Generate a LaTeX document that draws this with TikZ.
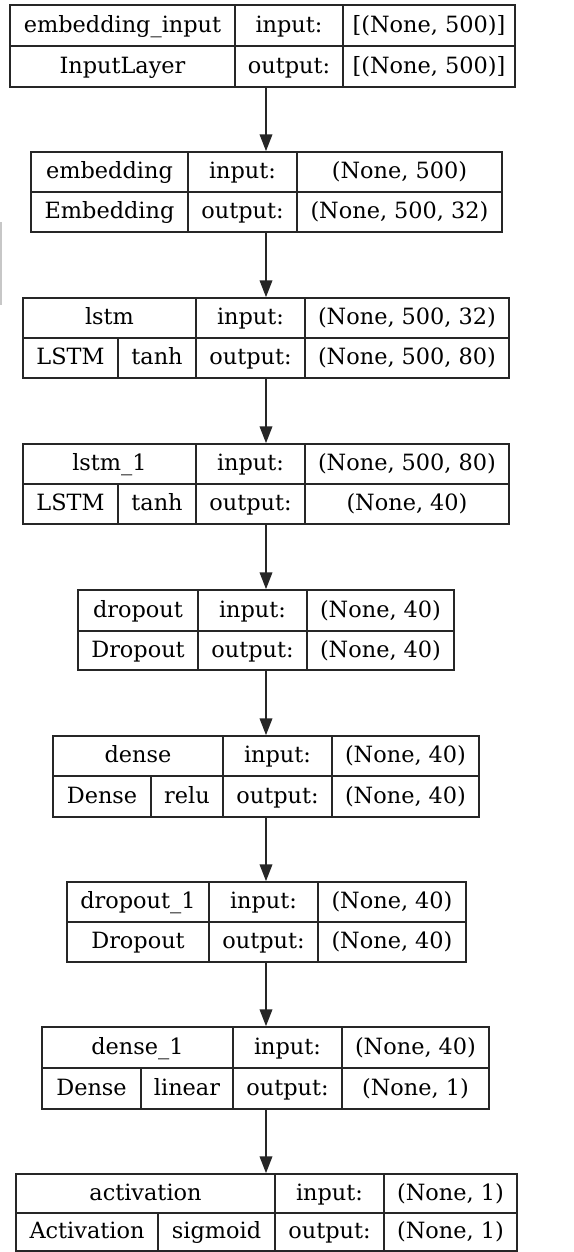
\documentclass[tikz,border=0pt]{standalone}
\usepackage{fontspec}
\setmainfont{DejaVu Serif}
\usetikzlibrary{fit,arrows.meta}
\tikzset{
  x=0.75pt, y=-0.75pt,
  cellbox/.style={draw=black!85, line width=0.95pt, inner sep=0pt, text height=13pt, text depth=3pt,
    font=\fontsize{16.8pt}{19pt}\selectfont},
  layerbox/.style={inner sep=0pt},
  arr/.style={draw=black!85, line width=0.95pt, -{Triangle[length=12.5pt,width=9.5pt]}},
}
\newcommand\cell[6]{\node[cellbox, minimum width={(#4-#2)*0.75pt}, minimum height={(#5-#3)*0.75pt}]
  (#1) at ({(#2+#4)/2},{(#3+#5)/2}) {#6};}
\begin{document}
\begin{tikzpicture}
\useasboundingbox (0,0) rectangle (574,1252);
\fill[white] (0,0) rectangle (574,1252);
\draw[black!22, line width=0.9pt] (1,222) -- (1,305);

% Layer 1
\cell{a1}{10}{5}{235}{46}{embedding\_input}
\cell{a2}{235}{5}{343}{46}{input:}
\cell{a3}{343}{5}{515}{46}{[(None, 500)]}
\cell{a4}{10}{46}{235}{87}{InputLayer}
\cell{a5}{235}{46}{343}{87}{output:}
\cell{a6}{343}{46}{515}{87}{[(None, 500)]}
\node[layerbox, fit=(a1)(a6)] (L1) {};

% Layer 2
\cell{b1}{31}{152}{188}{192}{embedding}
\cell{b2}{188}{152}{297}{192}{input:}
\cell{b3}{297}{152}{502}{192}{(None, 500)}
\cell{b4}{31}{192}{188}{232}{Embedding}
\cell{b5}{188}{192}{297}{232}{output:}
\cell{b6}{297}{192}{502}{232}{(None, 500, 32)}
\node[layerbox, fit=(b1)(b6)] (L2) {};

% Layer 3
\cell{c1}{23}{298}{196}{338}{lstm}
\cell{c2}{196}{298}{305}{338}{input:}
\cell{c3}{305}{298}{509}{338}{(None, 500, 32)}
\cell{c4}{23}{338}{118}{378}{LSTM}
\cell{c5}{118}{338}{196}{378}{tanh}
\cell{c6}{196}{338}{305}{378}{output:}
\cell{c7}{305}{338}{509}{378}{(None, 500, 80)}
\node[layerbox, fit=(c1)(c7)] (L3) {};

% Layer 4
\cell{d1}{23}{444}{196}{484}{lstm\_1}
\cell{d2}{196}{444}{305}{484}{input:}
\cell{d3}{305}{444}{509}{484}{(None, 500, 80)}
\cell{d4}{23}{484}{118}{524}{LSTM}
\cell{d5}{118}{484}{196}{524}{tanh}
\cell{d6}{196}{484}{305}{524}{output:}
\cell{d7}{305}{484}{509}{524}{(None, 40)}
\node[layerbox, fit=(d1)(d7)] (L4) {};

% Layer 5
\cell{e1}{78}{590}{198}{631}{dropout}
\cell{e2}{198}{590}{307}{631}{input:}
\cell{e3}{307}{590}{454}{631}{(None, 40)}
\cell{e4}{78}{631}{198}{670}{Dropout}
\cell{e5}{198}{631}{307}{670}{output:}
\cell{e6}{307}{631}{454}{670}{(None, 40)}
\node[layerbox, fit=(e1)(e6)] (L5) {};

% Layer 6
\cell{f1}{53}{736}{223}{776}{dense}
\cell{f2}{223}{736}{332}{776}{input:}
\cell{f3}{332}{736}{479}{776}{(None, 40)}
\cell{f4}{53}{776}{151}{817}{Dense}
\cell{f5}{151}{776}{223}{817}{relu}
\cell{f6}{223}{776}{332}{817}{output:}
\cell{f7}{332}{776}{479}{817}{(None, 40)}
\node[layerbox, fit=(f1)(f7)] (L6) {};

% Layer 7
\cell{g1}{67}{882}{209}{922}{dropout\_1}
\cell{g2}{209}{882}{318}{922}{input:}
\cell{g3}{318}{882}{466}{922}{(None, 40)}
\cell{g4}{67}{922}{209}{962}{Dropout}
\cell{g5}{209}{922}{318}{962}{output:}
\cell{g6}{318}{922}{466}{962}{(None, 40)}
\node[layerbox, fit=(g1)(g6)] (L7) {};

% Layer 8
\cell{h1}{42}{1027}{233}{1068}{dense\_1}
\cell{h2}{233}{1027}{342}{1068}{input:}
\cell{h3}{342}{1027}{489}{1068}{(None, 40)}
\cell{h4}{42}{1068}{141}{1109}{Dense}
\cell{h5}{141}{1068}{233}{1109}{linear}
\cell{h6}{233}{1068}{342}{1109}{output:}
\cell{h7}{342}{1068}{489}{1109}{(None, 1)}
\node[layerbox, fit=(h1)(h7)] (L8) {};

% Layer 9
\cell{i1}{16}{1174}{275}{1213}{activation}
\cell{i2}{275}{1174}{384}{1213}{input:}
\cell{i3}{384}{1174}{517}{1213}{(None, 1)}
\cell{i4}{16}{1213}{158}{1251}{Activation}
\cell{i5}{158}{1213}{275}{1251}{sigmoid}
\cell{i6}{275}{1213}{384}{1251}{output:}
\cell{i7}{384}{1213}{517}{1251}{(None, 1)}
\node[layerbox, fit=(i1)(i7)] (L9) {};

% Connectors
\coordinate (ax) at (266,0);
\draw[arr] (L1.south -| ax) -- (L2.north -| ax);
\draw[arr] (L2.south -| ax) -- (L3.north -| ax);
\draw[arr] (L3.south -| ax) -- (L4.north -| ax);
\draw[arr] (L4.south -| ax) -- (L5.north -| ax);
\draw[arr] (L5.south -| ax) -- (L6.north -| ax);
\draw[arr] (L6.south -| ax) -- (L7.north -| ax);
\draw[arr] (L7.south -| ax) -- (L8.north -| ax);
\draw[arr] (L8.south -| ax) -- (L9.north -| ax);
\end{tikzpicture}
\end{document}
